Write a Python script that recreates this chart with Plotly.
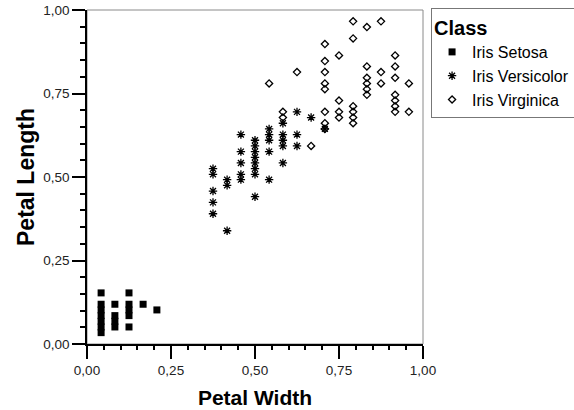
import plotly.graph_objects as go

setosa_width = [0.042, 0.042, 0.042, 0.042, 0.042, 0.042, 0.042,
                0.083, 0.083, 0.083, 0.083,
                0.125, 0.125, 0.125, 0.125, 0.125,
                0.167, 0.208]
setosa_length = [0.034, 0.051, 0.068, 0.085, 0.102, 0.119, 0.153,
                 0.051, 0.068, 0.085, 0.119,
                 0.051, 0.085, 0.102, 0.119, 0.153,
                 0.119, 0.102]

versicolor_width = [0.375, 0.375, 0.375, 0.375, 0.375,
                    0.417, 0.417, 0.417,
                    0.458, 0.458, 0.458, 0.458, 0.458,
                    0.500, 0.500, 0.500, 0.500, 0.500, 0.500, 0.500, 0.500,
                    0.542, 0.542, 0.542, 0.542, 0.542,
                    0.583, 0.583, 0.583, 0.583, 0.583,
                    0.625, 0.625, 0.625,
                    0.667, 0.708]
versicolor_length = [0.390, 0.424, 0.458, 0.508, 0.525,
                     0.339, 0.475, 0.492,
                     0.492, 0.508, 0.542, 0.576, 0.627,
                     0.441, 0.508, 0.525, 0.542, 0.559, 0.576, 0.593, 0.610,
                     0.492, 0.576, 0.610, 0.627, 0.644,
                     0.542, 0.593, 0.610, 0.627, 0.661,
                     0.593, 0.627, 0.695,
                     0.678, 0.644]

virginica_width = [0.542,
                   0.583, 0.583,
                   0.625, 0.667,
                   0.708, 0.708, 0.708, 0.708, 0.708, 0.708, 0.708, 0.708,
                   0.750, 0.750, 0.750, 0.750,
                   0.792, 0.792, 0.792, 0.792, 0.792, 0.792,
                   0.833, 0.833, 0.833, 0.833, 0.833, 0.833,
                   0.875, 0.875, 0.875,
                   0.917, 0.917, 0.917, 0.917, 0.917, 0.917, 0.917,
                   0.958, 0.958]
virginica_length = [0.780,
                    0.678, 0.695,
                    0.814, 0.593,
                    0.644, 0.661, 0.695, 0.763, 0.780, 0.814, 0.847, 0.898,
                    0.678, 0.695, 0.729, 0.864,
                    0.661, 0.678, 0.695, 0.712, 0.915, 0.966,
                    0.746, 0.763, 0.780, 0.797, 0.831, 0.949,
                    0.780, 0.814, 0.966,
                    0.695, 0.712, 0.729, 0.746, 0.797, 0.831, 0.864,
                    0.695, 0.780]

FONT = "Liberation Sans, Arial, Helvetica, sans-serif"

fig = go.Figure()
fig.add_trace(go.Scatter(
    x=setosa_width, y=setosa_length, mode="markers", name="Iris Setosa",
    legendgroup="a",
    marker=dict(symbol="square", size=7, color="black", line=dict(width=0))))
fig.add_trace(go.Scatter(
    x=versicolor_width, y=versicolor_length, mode="markers", name="Iris Versicolor",
    legendgroup="b",
    marker=dict(symbol="asterisk-open", size=7, color="black",
                line=dict(width=1.3, color="black"))))
fig.add_trace(go.Scatter(
    x=virginica_width, y=virginica_length, mode="markers", name="Iris Virginica",
    legendgroup="c",
    marker=dict(symbol="diamond-open", size=5.5, color="black",
                line=dict(width=1.3, color="black"))))

axis_common = dict(
    range=[0, 1], dtick=0.25, tick0=0, tickformat=".2f",
    showgrid=False, zeroline=False, automargin=False,
    ticklabeloverflow="allow",
    showline=True, linecolor="black", linewidth=1.5,
    ticks="outside", ticklen=13, tickwidth=2, tickcolor="black",
    tickfont=dict(family=FONT, size=13.5, color="#222"),
)

fig.update_xaxes(
    **axis_common,
    minor=dict(dtick=0.05, ticks="outside", ticklen=4, tickwidth=2,
               tickcolor="black", showgrid=False),
    title=dict(text="<b>Petal Width</b>", standoff=13,
               font=dict(family=FONT, size=21, color="black")),
)
fig.update_yaxes(
    **axis_common,
    minor=dict(dtick=0.05, ticks="outside", ticklen=5, tickwidth=2,
               tickcolor="black", showgrid=False),
    title=dict(text="<b>Petal Length</b>", standoff=2,
               font=dict(family=FONT, size=23, color="black")),
)

# thin grey frame on top/right of the plot area
fig.add_shape(type="rect", xref="x domain", yref="y domain",
              x0=0, x1=1, y0=0, y1=1,
              line=dict(color="#8a8a8a", width=1), layer="below")

fig.update_layout(
    width=574, height=410,
    margin=dict(l=87, r=151, t=10, b=66, autoexpand=False),
    paper_bgcolor="white", plot_bgcolor="white",
    separators=", ",
    font=dict(family=FONT, color="black"),
    legend=dict(
        title=dict(text="<b>Class</b>", font=dict(family=FONT, size=20, color="black")),
        font=dict(family=FONT, size=16, color="black"),
        x=1.024, y=1.006, xanchor="left", yanchor="top",
        bordercolor="#777", borderwidth=1, bgcolor="white",
        tracegroupgap=0, itemwidth=30,
    ),
)

# remove the default page margin so the figure sits at the window's top-left
fig.write_html(
    "out.html",
    config={"displayModeBar": False},
    post_script="document.body.style.margin='0';document.body.style.overflow='hidden';",
)
